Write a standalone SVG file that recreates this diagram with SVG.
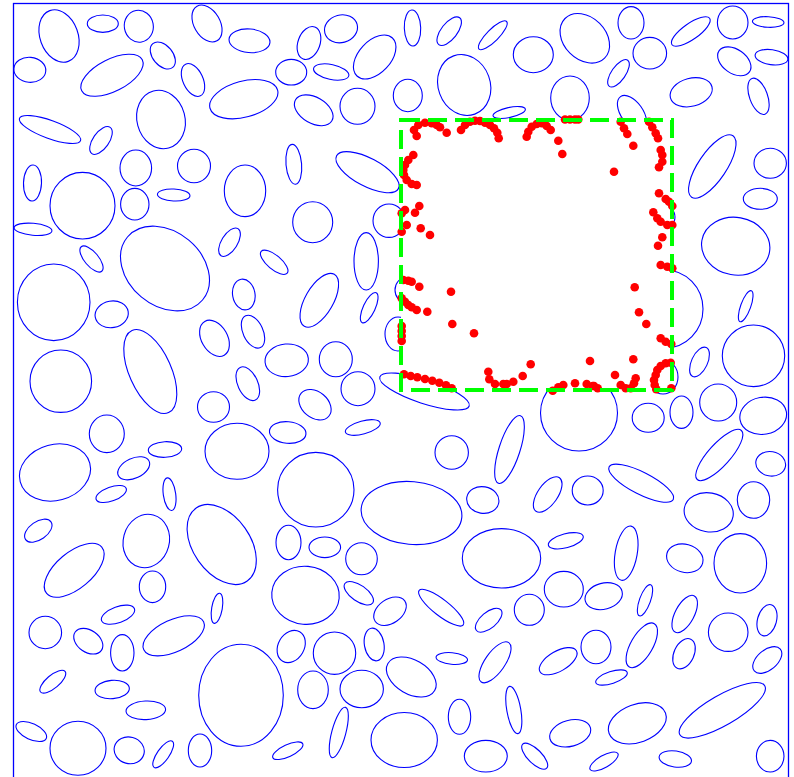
<svg xmlns="http://www.w3.org/2000/svg" width="794" height="777" viewBox="0 0 794 777">
<style>
.e ellipse{fill:none;stroke:#0000ff;stroke-width:1.1}
.d circle{fill:#ff0000;stroke:none}
</style>
<rect width="794" height="777" fill="#ffffff"/>
<g id="ellipses" class="e">
<ellipse cx="59" cy="36" rx="27" ry="19" transform="rotate(70 59 36)"/>
<ellipse cx="102.8" cy="23.7" rx="15.5" ry="8.7"/>
<ellipse cx="138.8" cy="26.2" rx="14.5" ry="16" transform="rotate(-10 138.8 26.2)"/>
<ellipse cx="29.8" cy="69.8" rx="16" ry="12.5" transform="rotate(5 29.8 69.8)"/>
<ellipse cx="112" cy="75.3" rx="34" ry="16" transform="rotate(-27 112 75.3)"/>
<ellipse cx="162.8" cy="55.5" rx="15.5" ry="10" transform="rotate(50 162.8 55.5)"/>
<ellipse cx="193" cy="80" rx="17.5" ry="10" transform="rotate(65 193 80)"/>
<ellipse cx="207" cy="23.5" rx="20" ry="13" transform="rotate(60 207 23.5)"/>
<ellipse cx="50" cy="129.5" rx="32.5" ry="9" transform="rotate(20 50 129.5)"/>
<ellipse cx="101" cy="140.5" rx="16" ry="8" transform="rotate(-55 101 140.5)"/>
<ellipse cx="161" cy="119.5" rx="29.5" ry="24" transform="rotate(75 161 119.5)"/>
<ellipse cx="32.5" cy="183" rx="18" ry="9" transform="rotate(92 32.5 183)"/>
<ellipse cx="82.5" cy="205.7" rx="32.5" ry="33.3"/>
<ellipse cx="135.8" cy="168" rx="15.8" ry="18"/>
<ellipse cx="134.8" cy="204.2" rx="14.2" ry="15.8"/>
<ellipse cx="173.7" cy="195" rx="16.3" ry="6" transform="rotate(3 173.7 195)"/>
<ellipse cx="194" cy="166" rx="16.5" ry="16.8"/>
<ellipse cx="33" cy="229.3" rx="19" ry="6" transform="rotate(5 33 229.3)"/>
<ellipse cx="165" cy="268.5" rx="49" ry="37" transform="rotate(40 165 268.5)"/>
<ellipse cx="91.5" cy="259" rx="16" ry="7" transform="rotate(50 91.5 259)"/>
<ellipse cx="249.5" cy="40.8" rx="20.5" ry="11.8" transform="rotate(5 249.5 40.8)"/>
<ellipse cx="309" cy="43" rx="17" ry="11" transform="rotate(-70 309 43)"/>
<ellipse cx="341" cy="28.8" rx="16.7" ry="13.8" transform="rotate(-15 341 28.8)"/>
<ellipse cx="374.7" cy="57" rx="26" ry="16" transform="rotate(-47 374.7 57)"/>
<ellipse cx="291.2" cy="72.2" rx="15.5" ry="12.8"/>
<ellipse cx="331.2" cy="72" rx="18" ry="7.5" transform="rotate(12 331.2 72)"/>
<ellipse cx="243.8" cy="99.2" rx="35" ry="18" transform="rotate(-15 243.8 99.2)"/>
<ellipse cx="313.7" cy="110.3" rx="21" ry="13" transform="rotate(30 313.7 110.3)"/>
<ellipse cx="357.5" cy="106.3" rx="17.5" ry="18"/>
<ellipse cx="407.8" cy="95.5" rx="14.5" ry="16.2"/>
<ellipse cx="293.8" cy="164.3" rx="20" ry="7.8" transform="rotate(85 293.8 164.3)"/>
<ellipse cx="367.5" cy="172.2" rx="35" ry="14" transform="rotate(28 367.5 172.2)"/>
<ellipse cx="245" cy="190.8" rx="20.7" ry="25.8"/>
<ellipse cx="312.7" cy="222.2" rx="20" ry="20.5"/>
<ellipse cx="229.5" cy="242.2" rx="16" ry="8" transform="rotate(-58 229.5 242.2)"/>
<ellipse cx="274.2" cy="262.3" rx="17" ry="7" transform="rotate(40 274.2 262.3)"/>
<ellipse cx="366.2" cy="261.3" rx="12.2" ry="28.7"/>
<ellipse cx="389" cy="220.7" rx="16" ry="16.7"/>
<ellipse cx="412.5" cy="28" rx="18" ry="8.2" transform="rotate(88 412.5 28)"/>
<ellipse cx="449.2" cy="31.2" rx="17" ry="8" transform="rotate(-52 449.2 31.2)"/>
<ellipse cx="492.8" cy="35.3" rx="19.5" ry="6" transform="rotate(-45 492.8 35.3)"/>
<ellipse cx="533.3" cy="54.7" rx="20" ry="18"/>
<ellipse cx="584.8" cy="38.3" rx="28" ry="21" transform="rotate(45 584.8 38.3)"/>
<ellipse cx="464.2" cy="85" rx="31" ry="26" transform="rotate(70 464.2 85)"/>
<ellipse cx="509.2" cy="112.5" rx="16.5" ry="5" transform="rotate(-12 509.2 112.5)"/>
<ellipse cx="570" cy="98" rx="19.3" ry="22"/>
<ellipse cx="631" cy="22.8" rx="13" ry="16.2"/>
<ellipse cx="649.8" cy="53.2" rx="16.8" ry="15.8"/>
<ellipse cx="690.8" cy="31.5" rx="23" ry="8" transform="rotate(-35 690.8 31.5)"/>
<ellipse cx="732.7" cy="22.5" rx="15.3" ry="16.5"/>
<ellipse cx="768.2" cy="22" rx="15.8" ry="5.3" transform="rotate(3 768.2 22)"/>
<ellipse cx="734.3" cy="61.3" rx="18.5" ry="12" transform="rotate(35 734.3 61.3)"/>
<ellipse cx="771.5" cy="57.2" rx="16.5" ry="7.5" transform="rotate(8 771.5 57.2)"/>
<ellipse cx="618.5" cy="73.3" rx="16" ry="7" transform="rotate(-55 618.5 73.3)"/>
<ellipse cx="691.2" cy="92.3" rx="21.5" ry="14" transform="rotate(-15 691.2 92.3)"/>
<ellipse cx="758.5" cy="96.3" rx="19" ry="9" transform="rotate(70 758.5 96.3)"/>
<ellipse cx="632" cy="113" rx="20" ry="11" transform="rotate(55 632 113)"/>
<ellipse cx="712.3" cy="166.5" rx="37" ry="14" transform="rotate(-56 712.3 166.5)"/>
<ellipse cx="770.2" cy="163.3" rx="16.2" ry="15"/>
<ellipse cx="760.3" cy="198.8" rx="17" ry="10.5"/>
<ellipse cx="735.7" cy="246.2" rx="34.3" ry="28.8" transform="rotate(10 735.7 246.2)"/>
<ellipse cx="53.7" cy="302.3" rx="36.3" ry="38.3"/>
<ellipse cx="111.7" cy="314.3" rx="16.7" ry="13.3" transform="rotate(-10 111.7 314.3)"/>
<ellipse cx="150.3" cy="371.5" rx="45" ry="21" transform="rotate(66 150.3 371.5)"/>
<ellipse cx="60.8" cy="381.2" rx="30.8" ry="31.2"/>
<ellipse cx="106.8" cy="433.8" rx="17.5" ry="18.8"/>
<ellipse cx="165" cy="449.5" rx="16.7" ry="7.8" transform="rotate(-3 165 449.5)"/>
<ellipse cx="55" cy="472.5" rx="36" ry="28" transform="rotate(-15 55 472.5)"/>
<ellipse cx="133.7" cy="468.3" rx="17" ry="10" transform="rotate(-25 133.7 468.3)"/>
<ellipse cx="111.2" cy="494" rx="16" ry="7" transform="rotate(-20 111.2 494)"/>
<ellipse cx="169.5" cy="494.2" rx="16.5" ry="6.2" transform="rotate(82 169.5 494.2)"/>
<ellipse cx="221.7" cy="544.5" rx="44.5" ry="28.5" transform="rotate(55 221.7 544.5)"/>
<ellipse cx="146.3" cy="541" rx="27" ry="23" transform="rotate(-75 146.3 541)"/>
<ellipse cx="38.3" cy="530.7" rx="15.5" ry="9" transform="rotate(-35 38.3 530.7)"/>
<ellipse cx="243.8" cy="294.5" rx="15.5" ry="11.2" transform="rotate(80 243.8 294.5)"/>
<ellipse cx="319.3" cy="300.3" rx="30" ry="14" transform="rotate(-60 319.3 300.3)"/>
<ellipse cx="369.2" cy="307.7" rx="16.5" ry="6" transform="rotate(-65 369.2 307.7)"/>
<ellipse cx="398" cy="334" rx="13" ry="17"/>
<ellipse cx="405" cy="290" rx="10" ry="12"/>
<ellipse cx="214.5" cy="338.3" rx="19.5" ry="13" transform="rotate(60 214.5 338.3)"/>
<ellipse cx="253" cy="331.7" rx="17.5" ry="10" transform="rotate(65 253 331.7)"/>
<ellipse cx="286.7" cy="360.3" rx="21.7" ry="16.3" transform="rotate(-5 286.7 360.3)"/>
<ellipse cx="335.8" cy="359.2" rx="16.5" ry="17.5"/>
<ellipse cx="247.8" cy="383.7" rx="18" ry="10" transform="rotate(65 247.8 383.7)"/>
<ellipse cx="358" cy="388.7" rx="17" ry="17"/>
<ellipse cx="424.5" cy="391.5" rx="47" ry="12" transform="rotate(18 424.5 391.5)"/>
<ellipse cx="213.5" cy="407" rx="16" ry="15.3"/>
<ellipse cx="315" cy="404.7" rx="18" ry="13" transform="rotate(40 315 404.7)"/>
<ellipse cx="287.7" cy="432.5" rx="18.3" ry="10.8" transform="rotate(5 287.7 432.5)"/>
<ellipse cx="362.8" cy="427.5" rx="18" ry="6.5" transform="rotate(-15 362.8 427.5)"/>
<ellipse cx="237" cy="451.3" rx="32" ry="28"/>
<ellipse cx="315.8" cy="489.7" rx="38.2" ry="37.3"/>
<ellipse cx="411.5" cy="513" rx="50.5" ry="31.4" transform="rotate(5 411.5 513)"/>
<ellipse cx="451.7" cy="452.5" rx="16.7" ry="16.8"/>
<ellipse cx="509.5" cy="449.5" rx="35.5" ry="10.5" transform="rotate(-72 509.5 449.5)"/>
<ellipse cx="579" cy="413" rx="38.5" ry="38"/>
<ellipse cx="482.8" cy="500" rx="16.2" ry="13.3" transform="rotate(10 482.8 500)"/>
<ellipse cx="547.7" cy="494.5" rx="20.5" ry="10" transform="rotate(-55 547.7 494.5)"/>
<ellipse cx="587.7" cy="490.5" rx="15.5" ry="14.5"/>
<ellipse cx="745.7" cy="306.2" rx="16.5" ry="5" transform="rotate(-70 745.7 306.2)"/>
<ellipse cx="665" cy="309" rx="38" ry="39"/>
<ellipse cx="699.5" cy="362" rx="16" ry="8" transform="rotate(-65 699.5 362)"/>
<ellipse cx="753.5" cy="355.8" rx="31.2" ry="30.8"/>
<ellipse cx="663" cy="377" rx="15" ry="17"/>
<ellipse cx="662" cy="217" rx="13" ry="12"/>
<ellipse cx="648.2" cy="417.8" rx="16" ry="14.5"/>
<ellipse cx="681.5" cy="412.2" rx="11.5" ry="16.2"/>
<ellipse cx="718.2" cy="402.5" rx="18.5" ry="18.5"/>
<ellipse cx="763.2" cy="415.8" rx="23.5" ry="18.5" transform="rotate(-10 763.2 415.8)"/>
<ellipse cx="719.3" cy="455" rx="33" ry="11" transform="rotate(-48 719.3 455)"/>
<ellipse cx="770.7" cy="463.8" rx="15" ry="12.2" transform="rotate(10 770.7 463.8)"/>
<ellipse cx="641.2" cy="483.2" rx="36" ry="11" transform="rotate(27 641.2 483.2)"/>
<ellipse cx="708.7" cy="512.3" rx="24.7" ry="19.5" transform="rotate(10 708.7 512.3)"/>
<ellipse cx="753.5" cy="500" rx="16.2" ry="18.3"/>
<ellipse cx="74.2" cy="570.3" rx="36" ry="18" transform="rotate(-40 74.2 570.3)"/>
<ellipse cx="152.5" cy="586.8" rx="13.2" ry="15.8"/>
<ellipse cx="118" cy="614.7" rx="17.5" ry="8" transform="rotate(-20 118 614.7)"/>
<ellipse cx="45.3" cy="632.5" rx="16.3" ry="16.2"/>
<ellipse cx="88.3" cy="641.2" rx="16" ry="11" transform="rotate(35 88.3 641.2)"/>
<ellipse cx="122.3" cy="652.8" rx="11.7" ry="18.2"/>
<ellipse cx="173.7" cy="635.8" rx="33" ry="16" transform="rotate(-25 173.7 635.8)"/>
<ellipse cx="52.8" cy="681.7" rx="16" ry="6.5" transform="rotate(-40 52.8 681.7)"/>
<ellipse cx="112.2" cy="689.5" rx="17.2" ry="9.2" transform="rotate(-5 112.2 689.5)"/>
<ellipse cx="145.8" cy="710.3" rx="19.8" ry="9.3" transform="rotate(-3 145.8 710.3)"/>
<ellipse cx="31.3" cy="731.5" rx="16.5" ry="8" transform="rotate(25 31.3 731.5)"/>
<ellipse cx="78" cy="748.3" rx="28" ry="27"/>
<ellipse cx="129.2" cy="750.3" rx="15.2" ry="13.3" transform="rotate(15 129.2 750.3)"/>
<ellipse cx="163.2" cy="754.3" rx="16" ry="6" transform="rotate(-55 163.2 754.3)"/>
<ellipse cx="200" cy="750.5" rx="11.7" ry="16.5"/>
<ellipse cx="217" cy="608.3" rx="15.3" ry="5.3" transform="rotate(-80 217 608.3)"/>
<ellipse cx="241" cy="695.3" rx="42.3" ry="51"/>
<ellipse cx="288.5" cy="542.5" rx="12.5" ry="17.2"/>
<ellipse cx="324.8" cy="547.3" rx="15.8" ry="10.3"/>
<ellipse cx="361.5" cy="558.7" rx="15.8" ry="16"/>
<ellipse cx="305.5" cy="595.3" rx="33.8" ry="29" transform="rotate(5 305.5 595.3)"/>
<ellipse cx="358.8" cy="593.2" rx="17" ry="8" transform="rotate(35 358.8 593.2)"/>
<ellipse cx="390" cy="611.2" rx="18" ry="12" transform="rotate(-35 390 611.2)"/>
<ellipse cx="291.2" cy="646.5" rx="17" ry="13" transform="rotate(-60 291.2 646.5)"/>
<ellipse cx="334.5" cy="653.2" rx="21.2" ry="21.2"/>
<ellipse cx="374.2" cy="644.5" rx="16.5" ry="9.8" transform="rotate(80 374.2 644.5)"/>
<ellipse cx="411.3" cy="677" rx="27" ry="17" transform="rotate(30 411.3 677)"/>
<ellipse cx="313" cy="689.8" rx="15.3" ry="18.8"/>
<ellipse cx="361.7" cy="689" rx="21.7" ry="18.7"/>
<ellipse cx="338.8" cy="732.5" rx="26" ry="7" transform="rotate(-75 338.8 732.5)"/>
<ellipse cx="287.8" cy="750.7" rx="16.5" ry="6" transform="rotate(-25 287.8 750.7)"/>
<ellipse cx="404.2" cy="740" rx="33.2" ry="27.5"/>
<ellipse cx="501.5" cy="558.3" rx="39.2" ry="29.7"/>
<ellipse cx="565.8" cy="540.8" rx="18" ry="7" transform="rotate(-15 565.8 540.8)"/>
<ellipse cx="441.2" cy="607.7" rx="28" ry="8" transform="rotate(38 441.2 607.7)"/>
<ellipse cx="488.7" cy="620.2" rx="16" ry="8" transform="rotate(-40 488.7 620.2)"/>
<ellipse cx="529.3" cy="609.8" rx="15" ry="15.5"/>
<ellipse cx="563.8" cy="589.2" rx="19.5" ry="17.8"/>
<ellipse cx="603.7" cy="596.2" rx="19" ry="13" transform="rotate(-15 603.7 596.2)"/>
<ellipse cx="451.8" cy="658.5" rx="15.8" ry="5.8" transform="rotate(5 451.8 658.5)"/>
<ellipse cx="495" cy="662.3" rx="24" ry="10" transform="rotate(-55 495 662.3)"/>
<ellipse cx="558.2" cy="661.2" rx="21" ry="10" transform="rotate(-30 558.2 661.2)"/>
<ellipse cx="596" cy="647" rx="15" ry="16.7"/>
<ellipse cx="459.5" cy="716.8" rx="11.2" ry="17.5"/>
<ellipse cx="513.8" cy="710" rx="24" ry="7" transform="rotate(80 513.8 710)"/>
<ellipse cx="485.8" cy="756.2" rx="21.5" ry="15.8"/>
<ellipse cx="534.7" cy="756.2" rx="17" ry="7" transform="rotate(45 534.7 756.2)"/>
<ellipse cx="570.2" cy="733.3" rx="21" ry="13" transform="rotate(-15 570.2 733.3)"/>
<ellipse cx="604" cy="761.5" rx="16" ry="6" transform="rotate(-30 604 761.5)"/>
<ellipse cx="611.5" cy="677.5" rx="16.5" ry="6" transform="rotate(-18 611.5 677.5)"/>
<ellipse cx="626.2" cy="553.2" rx="27.5" ry="11" transform="rotate(-80 626.2 553.2)"/>
<ellipse cx="684.8" cy="558.3" rx="18.5" ry="14" transform="rotate(15 684.8 558.3)"/>
<ellipse cx="740.3" cy="563.3" rx="26.3" ry="29.7"/>
<ellipse cx="645" cy="600.3" rx="16.5" ry="5.5" transform="rotate(-70 645 600.3)"/>
<ellipse cx="684.7" cy="614" rx="20.5" ry="9.5" transform="rotate(-62 684.7 614)"/>
<ellipse cx="728.2" cy="632.2" rx="19.8" ry="19.2"/>
<ellipse cx="767" cy="620.2" rx="16" ry="9.5" transform="rotate(-75 767 620.2)"/>
<ellipse cx="641.8" cy="645.3" rx="25" ry="11" transform="rotate(-60 641.8 645.3)"/>
<ellipse cx="684" cy="653.7" rx="16" ry="10" transform="rotate(-65 684 653.7)"/>
<ellipse cx="767.3" cy="660" rx="17" ry="10" transform="rotate(-40 767.3 660)"/>
<ellipse cx="637.3" cy="723.3" rx="30" ry="19" transform="rotate(-20 637.3 723.3)"/>
<ellipse cx="722.3" cy="710.3" rx="49" ry="15" transform="rotate(-30 722.3 710.3)"/>
<ellipse cx="675.3" cy="759" rx="16.3" ry="8" transform="rotate(8 675.3 759)"/>
<ellipse cx="770.2" cy="756.2" rx="13.8" ry="15.8"/>
</g>
<rect id="frame" x="13.5" y="3.5" width="775" height="800" fill="none" stroke="#0000ff" stroke-width="1.3"/>
<rect id="box-fill" x="401" y="120" width="271" height="270" fill="#ffffff"/>
<g id="points" class="d">
<circle cx="416.7" cy="136" r="4.3"/><circle cx="414" cy="130" r="4.3"/><circle cx="418.3" cy="125" r="4.3"/><circle cx="425" cy="122.7" r="4.3"/><circle cx="431.7" cy="123.3" r="4.3"/><circle cx="436.7" cy="125" r="4.3"/><circle cx="440" cy="127.3" r="4.3"/><circle cx="446.7" cy="132.7" r="4.3"/>
<circle cx="461" cy="130" r="4.3"/><circle cx="465" cy="125" r="4.3"/><circle cx="470" cy="121.7" r="4.3"/><circle cx="475" cy="120.7" r="4.3"/><circle cx="480" cy="121" r="4.3"/><circle cx="485" cy="122.7" r="4.3"/><circle cx="490" cy="125" r="4.3"/><circle cx="494" cy="128.3" r="4.3"/><circle cx="497.3" cy="132.7" r="4.3"/><circle cx="498.7" cy="138.3" r="4.3"/>
<circle cx="526.7" cy="136.7" r="4.3"/><circle cx="528.3" cy="131.7" r="4.3"/><circle cx="531.7" cy="126.7" r="4.3"/><circle cx="536.7" cy="124" r="4.3"/><circle cx="541.7" cy="123.3" r="4.3"/><circle cx="546.7" cy="126" r="4.3"/><circle cx="550.7" cy="130" r="4.3"/><circle cx="558.3" cy="140.7" r="4.3"/><circle cx="562.3" cy="154" r="4.3"/>
<circle cx="565" cy="119.5" r="4.3"/><circle cx="570" cy="119.5" r="4.3"/><circle cx="575" cy="119.5" r="4.3"/><circle cx="578.3" cy="119.5" r="4.3"/>
<circle cx="413.3" cy="155" r="4.3"/><circle cx="408.3" cy="160" r="4.3"/><circle cx="405" cy="165" r="4.3"/><circle cx="403.3" cy="170" r="4.3"/><circle cx="404" cy="175" r="4.3"/><circle cx="406.7" cy="180" r="4.3"/><circle cx="411.7" cy="184" r="4.3"/><circle cx="416.7" cy="185" r="4.3"/>
<circle cx="419.3" cy="206" r="4.3"/><circle cx="415" cy="212.7" r="4.3"/><circle cx="405" cy="210" r="4.3"/><circle cx="401.7" cy="213.3" r="4.3"/>
<circle cx="406.7" cy="225" r="4.3"/><circle cx="401.7" cy="231.7" r="4.3"/><circle cx="420.7" cy="228.3" r="4.3"/><circle cx="430" cy="235" r="4.3"/>
<circle cx="620.7" cy="121.7" r="4.3"/><circle cx="624" cy="128.3" r="4.3"/><circle cx="627.3" cy="134" r="4.3"/><circle cx="633.3" cy="145.7" r="4.3"/><circle cx="614" cy="171.7" r="4.3"/>
<circle cx="649" cy="121.7" r="4.3"/><circle cx="652.3" cy="127.3" r="4.3"/><circle cx="655.7" cy="133.3" r="4.3"/><circle cx="658" cy="138.3" r="4.3"/><circle cx="660.7" cy="150" r="4.3"/><circle cx="662.3" cy="155" r="4.3"/><circle cx="662.3" cy="161.7" r="4.3"/><circle cx="659" cy="167.3" r="4.3"/>
<circle cx="659" cy="193.3" r="4.3"/><circle cx="665.7" cy="199" r="4.3"/><circle cx="669" cy="201.7" r="4.3"/><circle cx="672.3" cy="206" r="4.3"/><circle cx="653.3" cy="212.3" r="4.3"/><circle cx="657.3" cy="218.3" r="4.3"/><circle cx="660.7" cy="221.7" r="4.3"/><circle cx="667.3" cy="225" r="4.3"/><circle cx="672.3" cy="225" r="4.3"/><circle cx="662.3" cy="237.3" r="4.3"/><circle cx="658" cy="245.7" r="4.3"/>
<circle cx="660.7" cy="265" r="4.3"/><circle cx="667.3" cy="266.7" r="4.3"/><circle cx="672.3" cy="268.3" r="4.3"/><circle cx="634.7" cy="287.3" r="4.3"/><circle cx="639" cy="312.3" r="4.3"/><circle cx="646.3" cy="324" r="4.3"/>
<circle cx="660.7" cy="338.3" r="4.3"/><circle cx="665.7" cy="341.7" r="4.3"/><circle cx="671.3" cy="344" r="4.3"/><circle cx="633.3" cy="359.3" r="4.3"/><circle cx="615" cy="375" r="4.3"/>
<circle cx="635.7" cy="378.3" r="4.3"/><circle cx="634" cy="383.3" r="4.3"/><circle cx="630.7" cy="388.3" r="4.3"/><circle cx="625.7" cy="388.3" r="4.3"/><circle cx="620.7" cy="385" r="4.3"/>
<circle cx="670.7" cy="362.7" r="4.3"/><circle cx="665.7" cy="363.3" r="4.3"/><circle cx="660.7" cy="366" r="4.3"/><circle cx="657.3" cy="370" r="4.3"/><circle cx="655.7" cy="375" r="4.3"/><circle cx="654" cy="380" r="4.3"/><circle cx="654.7" cy="385" r="4.3"/><circle cx="656.3" cy="389.3" r="4.3"/><circle cx="671.3" cy="388.3" r="4.3"/>
<circle cx="403.3" cy="280" r="4.3"/><circle cx="408.3" cy="280.7" r="4.3"/><circle cx="411.7" cy="281.7" r="4.3"/><circle cx="419.3" cy="286.7" r="4.3"/><circle cx="451" cy="291.7" r="4.3"/>
<circle cx="401.7" cy="298.3" r="4.3"/><circle cx="405" cy="301.7" r="4.3"/><circle cx="408.3" cy="305" r="4.3"/><circle cx="411.7" cy="307.3" r="4.3"/><circle cx="416.7" cy="310" r="4.3"/><circle cx="427.3" cy="311.7" r="4.3"/>
<circle cx="401.7" cy="326" r="4.3"/><circle cx="401.7" cy="331" r="4.3"/><circle cx="401.7" cy="336" r="4.3"/><circle cx="401.7" cy="341" r="4.3"/><circle cx="452.3" cy="324" r="4.3"/><circle cx="474" cy="333.3" r="4.3"/>
<circle cx="404" cy="374.3" r="4.3"/><circle cx="410.7" cy="376" r="4.3"/><circle cx="417.3" cy="377.3" r="4.3"/><circle cx="425" cy="379" r="4.3"/><circle cx="432.3" cy="380.7" r="4.3"/><circle cx="439.3" cy="382.7" r="4.3"/><circle cx="446" cy="385.3" r="4.3"/><circle cx="451.7" cy="388.3" r="4.3"/>
<circle cx="488.3" cy="371.7" r="4.3"/><circle cx="489.3" cy="379.3" r="4.3"/><circle cx="495" cy="384" r="4.3"/><circle cx="503.3" cy="384" r="4.3"/><circle cx="506.7" cy="384" r="4.3"/><circle cx="513.3" cy="381.7" r="4.3"/><circle cx="522.7" cy="376" r="4.3"/><circle cx="530.7" cy="364.3" r="4.3"/>
<circle cx="552.7" cy="390.7" r="4.3"/><circle cx="558.3" cy="387.3" r="4.3"/><circle cx="563.3" cy="385" r="4.3"/><circle cx="575" cy="383.3" r="4.3"/><circle cx="590" cy="361" r="4.3"/><circle cx="586.7" cy="384" r="4.3"/><circle cx="592.7" cy="386" r="4.3"/><circle cx="597.7" cy="388.3" r="4.3"/><circle cx="594" cy="386" r="4.3"/>
</g>
<path id="roi" d="M401,120 H672 V390 H401 Z" fill="none" stroke="#00ff00" stroke-width="4" stroke-dasharray="19,8"/>
</svg>
